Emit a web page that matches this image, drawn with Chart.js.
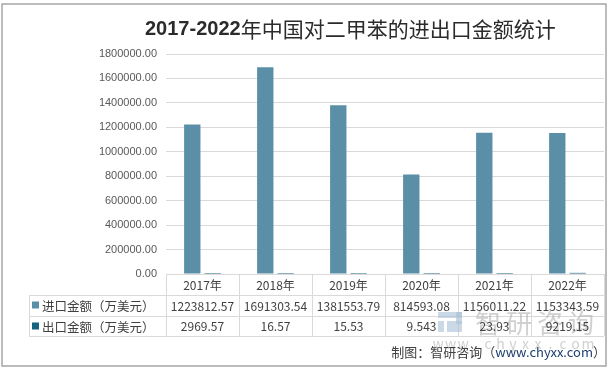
<!DOCTYPE html>
<html>
<head>
<meta charset="utf-8">
<script src="https://cdn.jsdelivr.net/npm/chart.js@4.4.1/dist/chart.umd.min.js"></script>
<style>
html,body{margin:0;padding:0;background:#fff;}
#wrap{width:609px;height:372px;position:relative;}
</style>
</head>
<body>
<div id="wrap"><canvas id="c" width="609" height="372"></canvas></div>
<script>
const categories = ["2017年","2018年","2019年","2020年","2021年","2022年"];
const importValues = [1223812.57, 1691303.54, 1381553.79, 814593.08, 1156011.22, 1153343.59];
const exportValues = [2969.57, 16.57, 15.53, 9.543, 23.93, 9219.15];
const importLabels = ["1223812.57","1691303.54","1381553.79","814593.08","1156011.22","1153343.59"];
const exportLabels = ["2969.57","16.57","15.53","9.543","23.93","9219.15"];
const seriesNames = ["进口金额（万美元）","出口金额（万美元）"];
const yTicks = [0,200000,400000,600000,800000,1000000,1200000,1400000,1600000,1800000];
const titleText = "2017-2022年中国对二甲苯的进出口金额统计";
const sourceText = "制图：智研咨询（";
const sourceUrl = "www.chyxx.com";
const sourceEnd = "）";
const watermarkText = "智研咨询";
const watermarkSub = "www.chyxx.com";

const colors = ["#5b8fa8", "#17637f"];
const CJK = '"Noto Sans CJK SC", "Liberation Sans", sans-serif';

const tablePlugin = {
  id: 'tablePlugin',
  afterDraw(chart) {
    const ctx = chart.ctx;
    const xs = chart.scales.x;
    const area = chart.chartArea;
    const n = categories.length;
    const cw = (area.right - area.left) / n;
    const top = area.bottom;
    const r1 = top + 21, r2 = top + 41.5, r3 = top + 62;
    const leftEdge = 29;
    ctx.save();

    // title: bold latin part, regular CJK part
    const m = titleText.match(/^[0-9\-]+/);
    const part1 = m ? m[0] : '';
    const part2 = titleText.slice(part1.length);
    ctx.textBaseline = 'middle';
    ctx.textAlign = 'left';
    ctx.fillStyle = '#2b2b2b';
    ctx.font = 'bold 20px "Liberation Sans", sans-serif';
    const w1 = ctx.measureText(part1).width;
    const tx = 145;
    ctx.fillText(part1, tx, 29);
    ctx.font = '21px ' + CJK;
    ctx.fillText(part2, tx + w1, 29);

    ctx.strokeStyle = '#d9d9d9';
    ctx.lineWidth = 1;
    ctx.beginPath();
    ctx.moveTo(area.left, Math.round(top) + 0.5); ctx.lineTo(area.right, Math.round(top) + 0.5);
    [r1, r2, r3].forEach(y => { ctx.moveTo(leftEdge, Math.round(y) + 0.5); ctx.lineTo(area.right, Math.round(y) + 0.5); });
    for (let i = 0; i <= n; i++) {
      const x = Math.round(area.left + i * cw) + 0.5;
      ctx.moveTo(x, top); ctx.lineTo(x, r3);
    }
    ctx.moveTo(leftEdge + 0.5, r1); ctx.lineTo(leftEdge + 0.5, r3);
    ctx.stroke();

    // watermark (behind text)
    ctx.globalAlpha = 0.6;
    ctx.fillStyle = '#a9c0d6';
    ctx.fillRect(438, 312, 24, 6);
    ctx.fillRect(456, 312, 6, 12);
    ctx.fillRect(438, 321, 6, 11);
    ctx.fillRect(447, 321, 15, 11);
    ctx.fillStyle = '#b0b0b0';
    ctx.font = '26px ' + CJK;
    ctx.textAlign = 'center';
    ctx.textBaseline = 'middle';
    watermarkText.split('').forEach((ch, i) => ctx.fillText(ch, 488 + i * 31, 323));
    ctx.font = '14px ' + CJK;
    watermarkSub.split('').forEach((ch, i) => ctx.fillText(ch, 438 + i * 12.5, 344));
    ctx.globalAlpha = 1;

    ctx.fillStyle = '#404040';
    ctx.textAlign = 'center';
    ctx.textBaseline = 'middle';
    ctx.font = '12px ' + CJK;
    for (let i = 0; i < n; i++) {
      const cx = xs.getPixelForValue(i);
      ctx.fillText(categories[i], cx, (top + r1) / 2 + 1);
      ctx.fillText(importLabels[i], cx, (r1 + r2) / 2 + 1);
      ctx.fillText(exportLabels[i], cx, (r2 + r3) / 2 + 1);
    }
    // row labels with legend keys
    ctx.textAlign = 'left';
    ctx.font = '12.5px ' + CJK;
    [[r1, r2], [r2, r3]].forEach((rr, k) => {
      const cy = (rr[0] + rr[1]) / 2;
      ctx.fillStyle = colors[k];
      ctx.fillRect(32, Math.round(cy) - 3.5, 7, 7);
      ctx.fillStyle = '#404040';
      ctx.fillText(seriesNames[k], 42, cy + 1);
    });

    // source
    ctx.font = '13px ' + CJK;
    ctx.textBaseline = 'middle';
    ctx.textAlign = 'right';
    const endW = ctx.measureText(sourceEnd).width;
    ctx.fillStyle = '#404040';
    ctx.fillText(sourceEnd, 606, 352);
    const urlW = ctx.measureText(sourceUrl).width;
    ctx.fillStyle = '#1f3f6e';
    ctx.fillText(sourceUrl, 606 - endW, 352);
    ctx.fillStyle = '#404040';
    ctx.fillText(sourceText, 606 - endW - urlW, 352);

    // outer border
    ctx.strokeStyle = '#a6a6a6';
    ctx.lineWidth = 1.5;
    ctx.strokeRect(2, 4, 604, 362);
    ctx.restore();
  }
};

new Chart(document.getElementById('c'), {
  type: 'bar',
  data: {
    labels: categories,
    datasets: [
      { label: seriesNames[0], data: importValues, backgroundColor: colors[0], categoryPercentage: 0.56, barPercentage: 0.8 },
      { label: seriesNames[1], data: exportValues, backgroundColor: colors[1], categoryPercentage: 0.56, barPercentage: 0.8, minBarLength: 1 }
    ]
  },
  options: {
    responsive: false,
    animation: false,
    devicePixelRatio: 1,
    layout: { padding: { left: 0, right: 5, top: 54, bottom: 98 } },
    plugins: {
      legend: { display: false },
      tooltip: { enabled: false },
      title: { display: false }
    },
    scales: {
      x: { display: false },
      y: {
        min: 0, max: 1800000,
        afterBuildTicks(scale) { scale.ticks = yTicks.map(v => ({ value: v })); },
        afterFit(scale) { scale.width = 166; },
        grid: { color: '#d9d9d9', drawTicks: false },
        border: { display: false },
        ticks: {
          padding: 9,
          color: '#595959',
          font: { size: 11, family: '"Liberation Sans", sans-serif' },
          callback: v => Number(v).toFixed(2)
        }
      }
    }
  },
  plugins: [tablePlugin]
});
</script>
</body>
</html>
